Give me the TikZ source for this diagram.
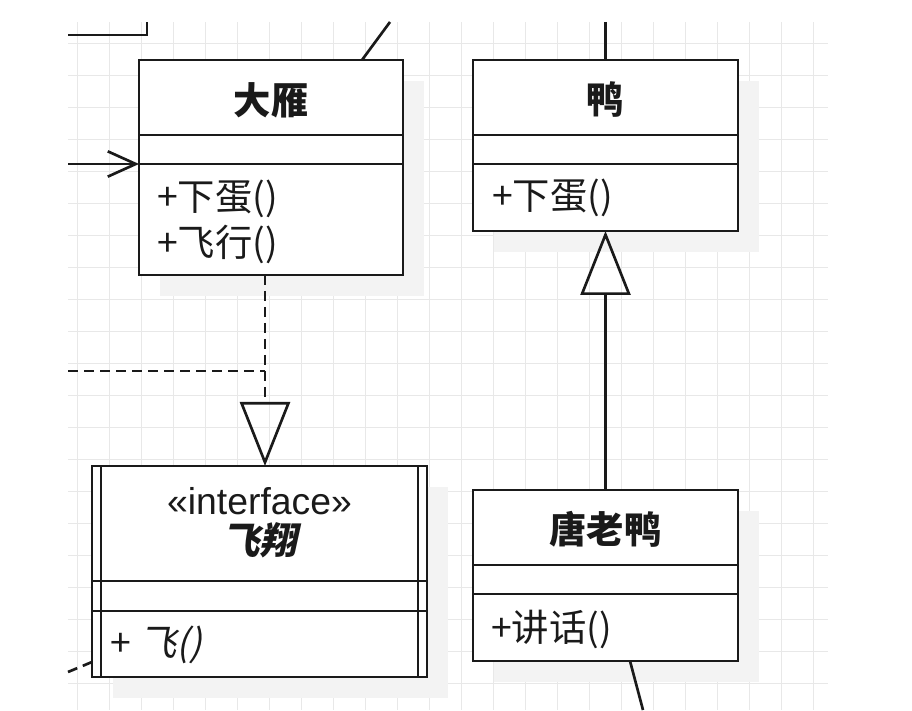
\documentclass[tikz,border=0pt]{standalone}
\usepackage{fontspec}
\setmainfont{Noto Sans CJK SC}[AutoFakeSlant=0.2]
\newfontfamily\slantcjk{Noto Sans CJK SC}[FakeSlant=0.22]
\newfontfamily\latinfont{Liberation Sans}
\usetikzlibrary{arrows.meta,shadows}

\begin{document}
\begin{tikzpicture}[x=1pt,y=1pt,
  classbox/.style={draw=drawColor,line width=2pt,fill=white,rectangle,inner sep=0pt,outer sep=0pt,
    drop shadow={shadow xshift=15.75pt,shadow yshift=-15.75pt,fill=shadowColor,opacity=1}},
  boxline/.style={draw=drawColor,line width=2pt},
  titletext/.style={text=drawColor,font=\fontsize{28}{32}\selectfont\bfseries,inner sep=0pt},
  membertext/.style={text=drawColor,anchor=west,font=\fontsize{28}{32}\selectfont,inner sep=0pt},
  wire/.style={draw=drawColor,line width=2pt},
  dashwire/.style={wire,dash pattern=on 7.5pt off 4.5pt},
  inherit/.style={wire,-{Triangle[open,length=48pt,width=37.5pt]}},
  realize/.style={dashwire,-{Triangle[open,length=48pt,width=37.5pt]}},
  navigate/.style={wire,-{Straight Barb[length=21pt,width=19pt]}}]
\definecolor{drawColor}{RGB}{26,26,26}
\definecolor{shadowColor}{RGB}{243,243,243}
\definecolor{gridColor}{RGB}{232,232,232}
\path[use as bounding box,fill=white] (0,0) rectangle (684,532.5);

% grid
\begin{scope}
\path[clip] (51,0) rectangle (621,516);
\foreach \gx in {57.75,81.75,...,621} \draw[gridColor,line width=0.6pt] (\gx,0) -- (\gx,516);
\foreach \gy in {20.25,44.25,...,516} \draw[gridColor,line width=0.6pt] (51,\gy) -- (621,\gy);
\end{scope}

% classes
\node[classbox,minimum width=198pt,minimum height=161.25pt] (dayan) at (203.25,406.875) {};
\node[classbox,minimum width=198.75pt,minimum height=128.25pt] (yazi) at (454.125,423.375) {};
\node[classbox,minimum width=251.25pt,minimum height=158.25pt] (feixiang) at (194.625,103.875) {};
\node[classbox,minimum width=198.75pt,minimum height=128.25pt] (tanglaoya) at (454.125,100.875) {};

\foreach \c in {dayan,yazi,tanglaoya} {
  \draw[boxline] ([yshift=-56.25pt]\c.north west) -- ([yshift=-56.25pt]\c.north east);
  \draw[boxline] ([yshift=-78pt]\c.north west) -- ([yshift=-78pt]\c.north east);
}
\draw[boxline] ([yshift=-86.25pt]feixiang.north west) -- ([yshift=-86.25pt]feixiang.north east);
\draw[boxline] ([yshift=-108.75pt]feixiang.north west) -- ([yshift=-108.75pt]feixiang.north east);
\draw[boxline] ([xshift=6.75pt]feixiang.north west) -- ([xshift=6.75pt]feixiang.south west);
\draw[boxline] ([xshift=-6.75pt]feixiang.north east) -- ([xshift=-6.75pt]feixiang.south east);

\node[titletext] (dayanName) at (203.25,457.5) {大雁};
\node[titletext] (yaziName) at (454.125,457.5) {鸭};
\node[titletext] (tanglaoyaName) at (454.125,135.75) {唐老鸭};
\node[text=drawColor,font=\fontsize{28}{32}\selectfont\latinfont,inner sep=0pt] (feixiangStereo) at (194.625,156.75) {«interface»};
\node[titletext,font=\fontsize{28}{32}\selectfont\slantcjk\bfseries] (feixiangName) at (194.625,127.5) {飞翔};

\node[membertext] (dayanLay) at (117.75,383.25) {+下蛋()};
\node[membertext] (dayanFly) at (117.75,349.5) {+飞行()};
\node[membertext] (yaziLay) at (369,384) {+下蛋()};
\node[membertext] (tanglaoyaTalk) at (368.25,60.75) {+讲话()};
\node[membertext] (feixiangFly) at (82.5,48.5) {+ {\slantcjk 飞()}};

% connectors
\coordinate (topStub) at (110.25,516);
\coordinate (topStubEnd) at (51,506.25);
\draw[wire] (topStubEnd) -- (topStubEnd -| topStub) -- (topStub);

\coordinate (dayanCut) at (292.5,516);
\draw[wire] ([xshift=68.25pt]dayan.north) -- (dayanCut);

\coordinate (yaziCut) at (454.125,516);
\draw[wire] (yaziCut) -- (yazi.north);

\coordinate (navFrom) at (51,409.5);
\draw[navigate] (navFrom) -- (navFrom -| dayan.west);

\coordinate (realizeJoin) at (198.75,254.25);
\coordinate (realizeFrom) at (51,254.25);
\draw[dashwire] (realizeFrom) -- (realizeJoin);
\draw[realize] (realizeJoin |- dayan.south) -- (realizeJoin |- feixiang.north);

\draw[inherit] (tanglaoya.north) -- (yazi.south);

\coordinate (tanglaoyaCut) at (482.25,0);
\draw[wire] ([xshift=18.375pt]tanglaoya.south) -- (tanglaoyaCut);

\coordinate (feixiangCut) at (51,28.5);
\draw[dashwire] (feixiangCut) -- ([yshift=11.25pt]feixiang.south west);
\end{tikzpicture}
\end{document}
